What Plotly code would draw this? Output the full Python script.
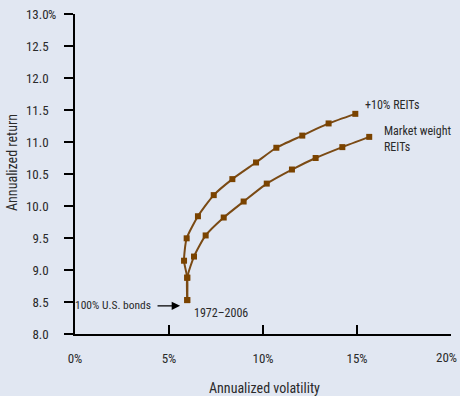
import plotly.graph_objects as go

# Data (annualized volatility %, annualized return %)
upper_vol = [5.97, 5.97, 5.80, 5.94, 6.54, 7.38, 8.37, 9.63, 10.71, 12.09, 13.49, 14.91]
upper_ret = [8.53, 8.88, 9.145, 9.495, 9.84, 10.17, 10.42, 10.68, 10.91, 11.10, 11.29, 11.44]
lower_vol = [5.97, 5.97, 6.33, 6.95, 7.91, 8.97, 10.20, 11.54, 12.80, 14.22, 15.65]
lower_ret = [8.53, 8.88, 9.21, 9.54, 9.82, 10.07, 10.35, 10.57, 10.75, 10.92, 11.08]

x_ticks = [0, 5, 10, 15, 20]
x_tick_labels = ["0%", "5%", "10%", "15%", "20%"]
y_ticks = [8.0, 8.5, 9.0, 9.5, 10.0, 10.5, 11.0, 11.5, 12.0, 12.5, 13.0]
y_tick_text = ["8.0", "8.5", "9.0", "9.5", "10.0", "10.5", "11.0", "11.5", "12.0", "12.5", "13.0"]

FONT = "Liberation Sans Narrow, Roboto Condensed, DejaVu Sans Condensed, Arial Narrow, sans-serif"
BG = "#E1E7F2"
LINE = "#7A4A14"
MARK = "#7A4300"
TXT = "#2a2a2a"

fig = go.Figure()
for xs, ys in [(upper_vol, upper_ret), (lower_vol, lower_ret)]:
    fig.add_trace(go.Scatter(
        x=xs, y=ys, mode="lines+markers",
        line=dict(color=LINE, width=2, shape="spline", smoothing=0.6),
        marker=dict(symbol="square", size=6, color=MARK),
        showlegend=False, hoverinfo="skip", cliponaxis=False,
    ))

# last x label is drawn as an annotation, nudged left so it stays inside the page
x_tick_text = x_tick_labels[:-1] + [""]

fig.update_layout(
    width=460, height=396,
    margin=dict(l=75, r=9, t=14, b=62, autoexpand=False),
    paper_bgcolor=BG, plot_bgcolor=BG,
    font=dict(family=FONT, size=13, color=TXT),
    xaxis=dict(range=[0, 20], tickvals=x_ticks, ticktext=x_tick_text, automargin=False,
               showgrid=False, zeroline=False, showline=True, linecolor="black", linewidth=1.5,
               ticks="inside", ticklen=9, tickwidth=1.5, tickcolor="black",
               ticklabelstandoff=12, tickfont=dict(size=13, color=TXT)),
    yaxis=dict(range=[8, 13], tickvals=y_ticks, ticktext=y_tick_text, automargin=False,
               showgrid=False, zeroline=False, showline=True, linecolor="black", linewidth=1.5,
               ticks="outside", ticklen=9, tickwidth=1.5, tickcolor="black",
               ticklabelstandoff=13, tickfont=dict(size=13, color=TXT)),
)

ann = [
    dict(text=x_tick_labels[-1], x=x_ticks[-1], xref="x", yref="paper", y=-0.072,
         xanchor="center", yanchor="middle", xshift=-5, showarrow=False, font=dict(size=13)),
    dict(text="%", xref="paper", yref="y", x=-0.0771, y=13.0, xanchor="left", yanchor="middle",
         showarrow=False, font=dict(size=13)),
    dict(text="Annualized return", xref="paper", yref="paper", x=-0.1676, y=0.5375,
         textangle=-90, xanchor="center", yanchor="middle", showarrow=False, font=dict(size=14)),
    dict(text="Annualized volatility", xref="paper", yref="paper", x=0.505, y=-0.168,
         xanchor="center", yanchor="middle", showarrow=False, font=dict(size=14)),
    dict(text="+10% REITs", x=15.32, y=11.58, xanchor="left", yanchor="middle",
         showarrow=False, font=dict(size=12)),
    dict(text="Market weight<br>REITs", x=16.31, y=11.04, xanchor="left", yanchor="middle",
         align="left", showarrow=False, font=dict(size=12)),
    dict(text="100% U.S. bonds", x=4.16, y=8.45, xanchor="right", yanchor="middle",
         showarrow=False, font=dict(size=11.5)),
    dict(text="", x=5.59, y=8.44, ax=4.31, ay=8.44, axref="x", ayref="y",
         showarrow=True, arrowhead=2, arrowsize=1.4, arrowwidth=1.2, arrowcolor="black"),
    dict(text="1972\u20132006", x=6.21, y=8.33, xanchor="left", yanchor="middle",
         showarrow=False, font=dict(size=12)),
]
fig.update_layout(annotations=ann)

fig.write_html(
    "out.html",
    config={"displayModeBar": False},
    post_script="document.body.style.margin='0';document.body.style.overflow='hidden';"
                "document.documentElement.style.overflow='hidden';",
)
